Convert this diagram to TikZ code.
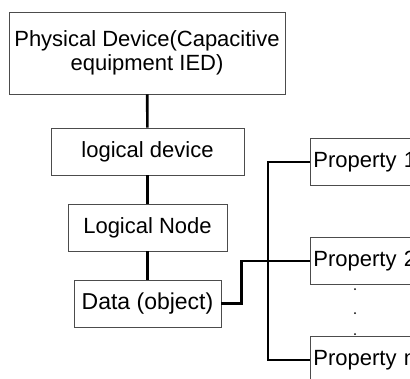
\documentclass[tikz,border=0pt]{standalone}
\usepackage{fontspec}
\setmainfont{Liberation Sans}
\tikzset{
  box/.style={draw=black!70, line width=0.8pt, align=center, inner sep=0pt,
    minimum height=47pt, font=\fontsize{22}{24}\selectfont},
  propbox/.style={box, anchor=west, text width=134pt, align=left, inner xsep=3pt},
  link/.style={line width=2.6pt},
}
\begin{document}
\begin{tikzpicture}[x=1pt,y=-1pt]
		% picture frame, 410 x 378
		\useasboundingbox (0,0) rectangle (410,378);
		\clip (0,0) rectangle (410,378);

		% the chain down the left
		\node[box, minimum width=276pt, minimum height=82pt] (phys) at (147,53) {Physical Device(Capacitive\\equipment IED)};
		\node[box, minimum width=193pt] (ldev) at (147.5,151.5) {logical device};
		\node[box, minimum width=159pt] (lnode) at (147.5,227.5) {Logical Node};
		\node[box, minimum width=147pt, font=\fontsize{23}{25}\selectfont] (data) at (147.5,303.5) {Data (object)};

		% properties, cut off by the frame
		\node[propbox] (prop1) at (310,162) {Property 1};
		\node[propbox] (prop2) at (310,261) {Property 2};
		\node[propbox] (propn) at (310,360) {Property n};

		\draw[link] (phys) -- (ldev);
		\draw[link] (ldev) -- (lnode);
		\draw[link] (lnode) -- (data);

		%\draw[help lines] (0,0) grid (410,378);
		\coordinate (bus) at (268,0);
		\draw[link] (prop1.west) -- (prop1.west -| bus) |- (propn.west);
		\draw[link] (data.east) -- ++(20,0) |- (prop2.west);

		\foreach \y in {289,313,334}
			\fill (355,\y) circle (1pt);
\end{tikzpicture}
\end{document}
